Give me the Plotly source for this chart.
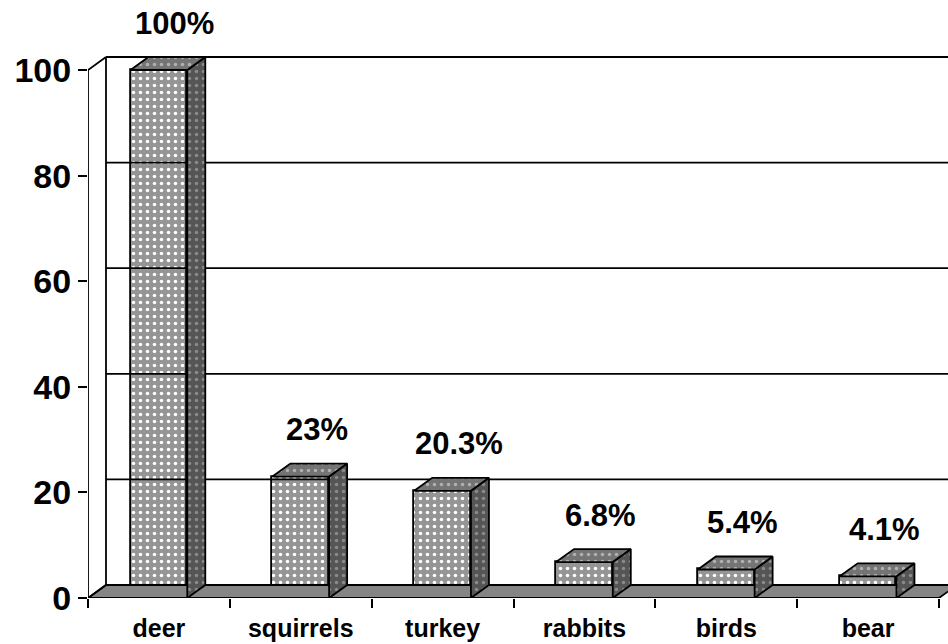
import plotly.graph_objects as go

categories = ["deer", "squirrels", "turkey", "rabbits", "birds", "bear"]
values = [100, 23, 20.3, 6.8, 5.4, 4.1]
value_labels = ["100%", "23%", "20.3%", "6.8%", "5.4%", "4.1%"]
y_ticks = [0, 20, 40, 60, 80, 100]

# 3D depth offsets (in data units) derived from pixel geometry
PX_PER_CAT = (939 - 88) / 6.0
PX_PER_UNIT = (598 - 70) / 100.0
DX = 18 / PX_PER_CAT
DY = 13 / PX_PER_UNIT
BAR_W = 0.40
FONT = "Liberation Sans, Arial, sans-serif"
LW = 1.8

xs = list(range(len(categories)))
x_lo, x_hi = -0.5, len(categories) - 0.5

fig = go.Figure()

# floor
fig.add_trace(go.Scatter(
    x=[x_lo, x_hi, x_hi + DX, x_lo + DX, x_lo],
    y=[0, 0, DY, DY, 0],
    fill="toself", fillcolor="#858585", mode="lines",
    line=dict(color="black", width=LW), hoverinfo="skip", showlegend=False))

# back wall left edge + gridlines
fig.add_trace(go.Scatter(
    x=[x_lo + DX, x_lo + DX], y=[DY, 100 + DY], mode="lines",
    line=dict(color="black", width=LW), hoverinfo="skip", showlegend=False))
for g in y_ticks[1:]:
    fig.add_trace(go.Scatter(
        x=[x_lo + DX, x_hi + DX + 1], y=[g + DY, g + DY], mode="lines",
        line=dict(color="black", width=LW), hoverinfo="skip", showlegend=False))
# side wall diagonals and front axis line
for g in [0, 100]:
    fig.add_trace(go.Scatter(
        x=[x_lo, x_lo + DX], y=[g, g + DY], mode="lines",
        line=dict(color="black", width=LW), hoverinfo="skip", showlegend=False))
fig.add_trace(go.Scatter(
    x=[x_lo, x_lo], y=[0, 100], mode="lines",
    line=dict(color="black", width=LW), hoverinfo="skip", showlegend=False))

# front faces
fig.add_trace(go.Bar(
    x=xs, y=values, width=BAR_W,
    marker=dict(color="#999999",
                line=dict(color="black", width=LW),
                pattern=dict(shape=".", bgcolor="#959595", fgcolor="white",
                             size=7, solidity=0.2, fillmode="replace")),
    hoverinfo="skip", showlegend=False))

# side and top faces
for x, v in zip(xs, values):
    x0, x1 = x - BAR_W / 2, x + BAR_W / 2
    fig.add_trace(go.Scatter(
        x=[x1, x1 + DX, x1 + DX, x1, x1],
        y=[0, DY, v + DY, v, 0],
        fill="toself", fillcolor="#5a5a5a", mode="lines",
        fillpattern=dict(shape=".", bgcolor="#555555", fgcolor="#8a8a8a",
                         size=7, solidity=0.2, fillmode="replace"),
        line=dict(color="black", width=LW), hoverinfo="skip", showlegend=False))
    fig.add_trace(go.Scatter(
        x=[x0, x1, x1 + DX, x0 + DX, x0],
        y=[v, v, v + DY, v + DY, v],
        fill="toself", fillcolor="#777777", mode="lines",
        fillpattern=dict(shape=".", bgcolor="#747474", fgcolor="#b0b0b0",
                         size=7, solidity=0.2, fillmode="replace"),
        line=dict(color="black", width=LW), hoverinfo="skip", showlegend=False))

# value labels
for x, v, t in zip(xs, values, value_labels):
    fig.add_annotation(x=x, y=v, text=t, showarrow=False, xshift=16, yshift=47,
                       yanchor="middle",
                       font=dict(family=FONT, size=31, color="black", weight="bold"))

y_top = (598 - 54) / PX_PER_UNIT

fig.update_layout(
    width=948, height=644,
    margin=dict(l=88, r=0, t=54, b=46, autoexpand=False),
    paper_bgcolor="white", plot_bgcolor="white",
    bargap=0,
    xaxis=dict(range=[x_lo, x_hi + 9 / PX_PER_CAT], tickmode="array", tickvals=xs,
               ticktext=categories, ticks="", showgrid=False, zeroline=False,
               showline=False, automargin=False, ticklabelstandoff=13,
               tickfont=dict(family=FONT, size=25, color="black", weight="bold"),
               minor=dict(tickmode="array", tickvals=[x_lo + i for i in range(len(categories) + 1)],
                          ticks="outside", ticklen=9, tickwidth=LW, tickcolor="black",
                          showgrid=False)),
    yaxis=dict(range=[0, y_top], tickmode="array", tickvals=y_ticks,
               ticks="outside", ticklen=9, tickwidth=LW, tickcolor="black",
               showgrid=False, zeroline=False, showline=False, automargin=False,
               tickfont=dict(family=FONT, size=34, color="black", weight="bold")),
)

fig.write_html("out.html", config={"displayModeBar": False},
               post_script="document.body.style.margin='0';document.body.style.overflow='hidden';")
